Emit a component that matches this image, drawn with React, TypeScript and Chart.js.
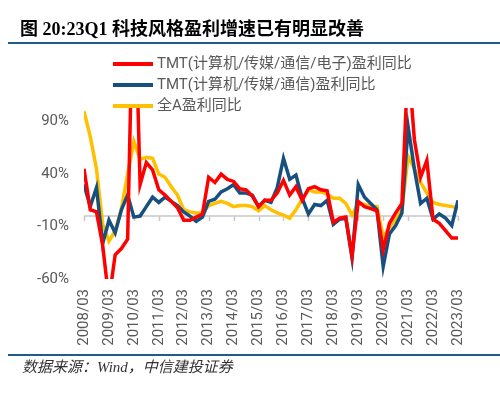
import React, { useEffect, useRef } from "react";
import { Chart, registerables } from "chart.js";

Chart.register(...registerables);

const years = ["2008", "2009", "2010", "2011", "2012", "2013", "2014", "2015", "2016", "2017", "2018", "2019", "2020", "2021", "2022", "2023"];
const months = ["03", "06", "09", "12"];
const lastMonthCount = 1; // 2023 only has Q1

const categories: string[] = [];
years.forEach((yr, yi) => {
  const ms = yi === years.length - 1 ? months.slice(0, lastMonthCount) : months;
  ms.forEach((m) => categories.push(`${yr}/${m}`));
});

const seriesNames = [
  "TMT(计算机/传媒/通信/电子)盈利同比",
  "TMT(计算机/传媒/通信)盈利同比",
  "全A盈利同比",
];

const tmtWithElec = [
  45, 6, 4, -28, -80, -37, -31, -22, 250, 30, 51, 44, 25, 20, 14, 8,
  -4, -4, -1, 2, 37, 32, 40, 35, 33, 26, 25, 19, 9, 15, 15, 22,
  34, 20, 28, 15, 26, 28, 25, 24, -6, -2, -1, -38, 14, 9, 7, 5,
  -32, -7, 3, 12, 150, 73, 37, 53, -3, -7, -14, -21, -21,
];

const tmtNoElec = [
  30, 9, 27, -26, -4, -16, 6, 20, -1, 0, 9, 18, 13, 18, 14, 10,
  4, 0, -5, -1, 14, 16, 23, 26, 30, 22, 22, 20, 9, 15, 13, 27,
  55, 35, 39, 17, 2, 11, 10, 15, -8, -3, -2, -40, 30, 18, 12, 6,
  -48, -17, -9, 3, 85, 45, 12, 17, -3, 2, -2, -9, 15,
];

const allA = [
  100, 76, 45, -8, -24, -14, 7, 40, 71, 54, 56, 55, 40, 37, 28, 20,
  6, 4, 3, 3, 10, 12, 14, 12, 9, 10, 10, 9, 5, 10, 6, 3,
  1, -2, 6, 16, 25, 23, 23, 21, 17, 17, 12, 1, 12, 11, 9, 9,
  -20, -11, -3, 6, 57, 45, 32, 22, 13, 11, 10, 9, 8,
];

const yTicks = [-60, -10, 40, 90];
const yMin = -60;
const yMax = 103;

const colors = ["#ff0000", "#17507f", "#ffc000"];
const textColor = "#595959";
const fontFamily = "Roboto, 'Noto Sans CJK SC', sans-serif";

const zeroLinePlugin = {
  id: "zeroLine",
  beforeDatasetsDraw(chart: any) {
    const { ctx, chartArea, scales } = chart;
    const x = scales.x;
    const y = scales.y;
    const y0 = y.getPixelForValue(0);
    ctx.save();
    ctx.strokeStyle = "#c8c8c8";
    ctx.lineWidth = 1.5;
    ctx.beginPath();
    ctx.moveTo(chartArea.left, y0);
    ctx.lineTo(chartArea.right, y0);
    for (let i = 0; i < categories.length; i += 4) {
      const px = Math.round(x.getPixelForValue(i)) + 0.5;
      ctx.moveTo(px, y0);
      ctx.lineTo(px, y0 + 5);
    }
    ctx.stroke();
    ctx.restore();
  },
};

const legendPlugin = {
  id: "customLegend",
  afterDraw(chart: any) {
    const { ctx } = chart;
    ctx.save();
    chart.data.datasets.forEach((ds: any, i: number) => {
      const yy = 64 + i * 21;
      ctx.strokeStyle = ds.borderColor;
      ctx.lineWidth = 4;
      ctx.beginPath();
      ctx.moveTo(113, yy);
      ctx.lineTo(153, yy);
      ctx.stroke();
      ctx.fillStyle = textColor;
      ctx.font = `15px ${fontFamily}`;
      ctx.textBaseline = "middle";
      ctx.textAlign = "left";
      ctx.fillText(ds.label, 157, yy);
    });
    ctx.restore();
  },
};

export default function App() {
  const canvasRef = useRef<HTMLCanvasElement | null>(null);

  useEffect(() => {
    document.body.style.margin = "0";
    const canvas = canvasRef.current;
    if (!canvas) return;
    const seriesData = [tmtWithElec, tmtNoElec, allA];
    const chart = new Chart(canvas, {
      type: "line",
      data: {
        labels: categories,
        datasets: seriesNames.map((name, i) => ({
          label: name,
          data: seriesData[i],
          borderColor: colors[i],
          backgroundColor: colors[i],
          borderWidth: 3.5,
          pointRadius: 0,
          pointHoverRadius: 0,
          tension: 0,
          fill: false,
          clip: 0,
        })),
      },
      options: {
        animation: false,
        responsive: false,
        devicePixelRatio: 1,
        layout: { padding: { top: 108, right: 42, left: 0, bottom: 0 } },
        plugins: {
          legend: { display: false },
          tooltip: { enabled: false },
          title: { display: false },
        },
        scales: {
          x: {
            type: "category",
            offset: false,
            grid: { display: false, drawTicks: false },
            border: { display: false },
            afterFit: (s: any) => {
              s.height = 117;
            },
            ticks: {
              autoSkip: false,
              minRotation: 90,
              maxRotation: 90,
              padding: 10,
              color: textColor,
              font: { size: 15, family: fontFamily },
              callback: (_v: any, i: number) => (i % 4 === 0 ? categories[i] : ""),
            },
          },
          y: {
            min: yMin,
            max: yMax,
            grid: { display: false, drawTicks: false },
            border: { display: false },
            afterFit: (s: any) => {
              s.width = 84;
            },
            afterBuildTicks: (s: any) => {
              s.ticks = yTicks.map((v) => ({ value: v }));
            },
            ticks: {
              padding: 15,
              color: textColor,
              font: { size: 15, family: fontFamily },
              callback: (v: any) => `${v}%`,
            },
          },
        },
      },
      plugins: [zeroLinePlugin, legendPlugin],
    });
    return () => chart.destroy();
  }, []);

  return (
    <div style={{ position: "relative", width: 500, height: 396, background: "#fff", overflow: "hidden" }}>
      <canvas ref={canvasRef} width={500} height={396} style={{ position: "absolute", left: 0, top: 0, display: "block" }} />
      <div
        style={{
          position: "absolute",
          left: 20,
          top: 18,
          fontFamily: "'Liberation Serif', 'Noto Sans CJK SC', serif",
          fontWeight: "bold",
          fontSize: 18,
          lineHeight: "22px",
          color: "#000",
          whiteSpace: "nowrap",
        }}
      >
        图 20:23Q1 科技风格盈利增速已有明显改善
      </div>
      <div style={{ position: "absolute", left: 8, top: 42, width: 492, height: 2, background: "#1f5c8a" }} />
      <div style={{ position: "absolute", left: 8, top: 354, width: 492, height: 2, background: "#1f5c8a" }} />
      <div
        style={{
          position: "absolute",
          left: 22,
          top: 357,
          fontFamily: "'Liberation Serif', 'Noto Sans CJK SC', serif",
          fontStyle: "italic",
          fontSize: 15,
          lineHeight: "20px",
          color: "#333",
          whiteSpace: "nowrap",
        }}
      >
        数据来源：Wind，中信建投证券
      </div>
    </div>
  );
}
